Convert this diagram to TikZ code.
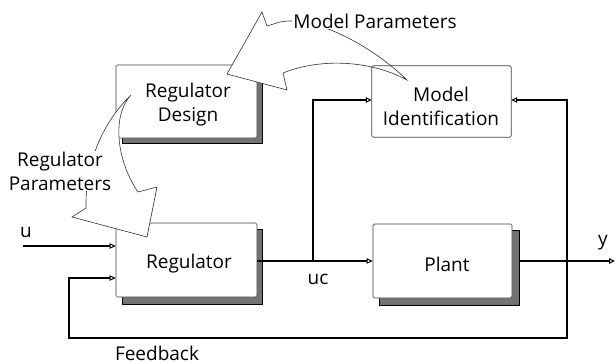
\documentclass[tikz,border=0pt]{standalone}
\usepackage{fontspec}
\setmainfont{Open Sans}
\usetikzlibrary{arrows.meta}
\begin{document}
\begin{tikzpicture}[x=1pt,y=-1pt,
  txt/.style={font=\fontsize{19}{24}\selectfont, align=center, inner sep=1pt},
  blk/.style={draw=black!75, line width=0.7pt, fill=white, rounded corners=1.5pt},
  shad/.style={draw=black, line width=0.6pt, fill=black!55},
  conn/.style={line width=1.3pt, -{Triangle[open,length=6pt,width=5.5pt,line width=1pt]}},
  bigarrow/.style={draw=black!80, line width=0.6pt, fill=white, line join=miter}]
\useasboundingbox (0,0) rectangle (616,364);

% shadows
\fill[shad] (122,71) rectangle (262,143);
\fill[shad] (122,229) rectangle (262,304);
\fill[shad] (379,230) rectangle (519,305);

% boxes
\node[blk, minimum width=141pt, minimum height=73pt] (rd) at (186.5,101.5) {};
\node[blk, minimum width=141pt, minimum height=74pt] (reg) at (186.5,260) {};
\node[blk, minimum width=139pt, minimum height=74pt] (pl) at (442.5,261) {};
\node[minimum width=139pt, minimum height=71pt, inner sep=0pt] (mi) at (441.5,101.5) {};

% texts in boxes
\node[txt] at (188,105) {Regulator\\Design};
\node[txt] at (441,106) {Model\\Identification};
\node[txt] at (189,264) {Regulator};
\node[txt] at (447,264) {Plant};

% coordinates
\coordinate (uin) at (23,246);
\coordinate (br) at (313,261);
\coordinate (yj) at (567,261);
\coordinate (yout) at (615,261);
\coordinate (fbl) at (69,338);

% connectors
\draw[conn] (uin) -- (uin -| reg.west);
\draw[conn] (reg.east |- br) -- (pl.west |- br);
\draw[conn] (br) |- (mi.west |- 0,100);
\draw[conn] (pl.east |- yj) ++(7,0) -- (yout);
\draw[conn] (yj) |- (mi.east |- 0,100);
\draw[conn] (yj) |- (fbl) |- (reg.west |- 0,278);

% big hollow arrows
\draw[bigarrow] (227,74) -- (262,12) -- (267,26) -- (280,22)
   .. controls (315,15) and (372,46) .. (407,80)
   .. controls (370,60) and (320,58) .. (283,73)
   -- (287,90) -- cycle;
\draw[bigarrow] (131,95) .. controls (105,120) and (85,160) .. (86,208)
   -- (72,217) -- (147,237) -- (157,187) -- (138,192)
   .. controls (116,160) and (112,115) .. (131,95) -- cycle;

% model identification border drawn on top
\draw[black!75, line width=0.7pt, rounded corners=1.5pt] (mi.south west) rectangle (mi.north east);

% labels
\node[txt, fill=white] at (375,21) {Model Parameters};
\node[txt, fill=white] at (60,171) {Regulator\\Parameters};
\node[txt] at (26,233) {u};
\node[txt] at (318,279) {uc};
\node[txt] at (603,243) {y};
\node[txt] at (157,353) {Feedback};
\end{tikzpicture}
\end{document}
